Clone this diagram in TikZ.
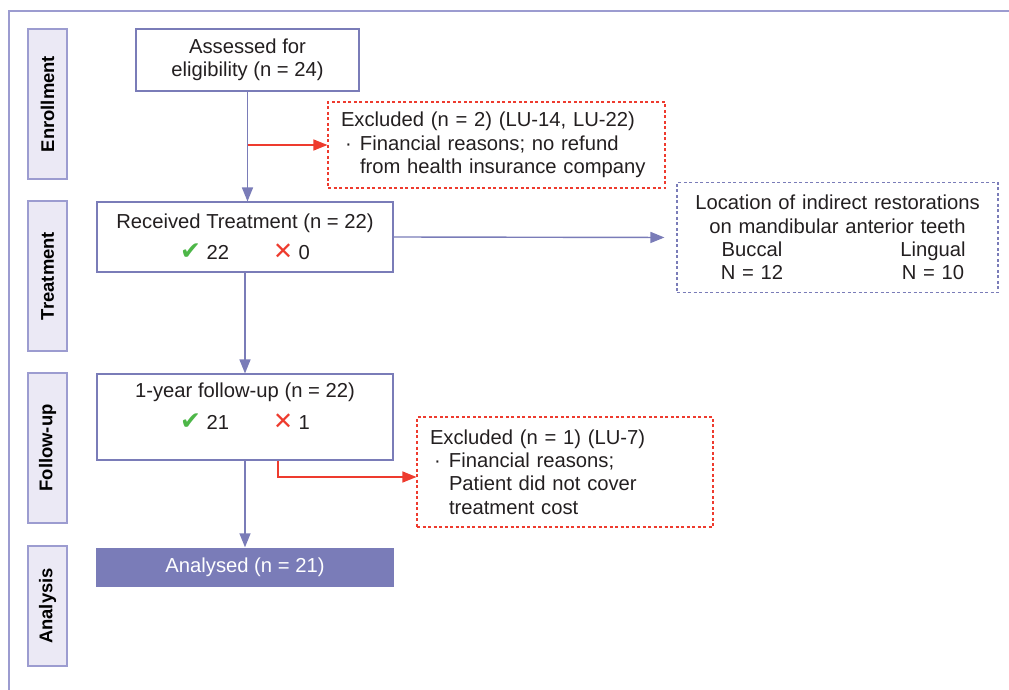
\documentclass[tikz,border=0pt]{standalone}
\usepackage{fontspec}
\setmainfont{Liberation Sans}
\newfontfamily\symfont{DejaVu Sans}
\usetikzlibrary{arrows.meta}

\definecolor{ink}{HTML}{7A7CB8}
\definecolor{frame}{HTML}{9C9CD0}
\definecolor{pale}{HTML}{EBE9F5}
\definecolor{alert}{HTML}{EE3B2E}
\definecolor{okgreen}{HTML}{4DB748}
\definecolor{txt}{HTML}{231F20}

\newcommand{\yes}{{\symfont\fontsize{25}{25}\selectfont\color{okgreen}✔}}
\newcommand{\nope}{{\symfont\fontsize{24}{24}\selectfont\color{alert}✕}}

\begin{document}
\begin{tikzpicture}[x=1bp,y=-1bp,every node/.style={font=\fontsize{20.3}{23.5}\selectfont,text=txt,inner sep=0},>={Triangle[length=14bp,width=11bp]}]
\path[use as bounding box] (0,0) rectangle (1009,690);
\tikzset{
  stagebox/.style={draw=frame,fill=pale,line width=1.2bp,rotate=90,minimum width=150bp,minimum height=39bp,font=\fontsize{18.5}{20}\selectfont\bfseries,text=black},
  flowbox/.style={draw=ink,line width=1.1bp,fill=white,align=center},
  exclbox/.style={draw=alert,line width=1.1bp,dash pattern=on 3bp off 2.5bp,align=left},
  notebox/.style={draw=ink,line width=1.1bp,dash pattern=on 3bp off 2.5bp,align=center},
  flowline/.style={draw=ink,line width=1.4bp,->},
  exclline/.style={draw=alert,line width=1.4bp,->}
}
\draw[frame,line width=1.5bp] (1009,11) -- (9,11) -- (9,690);
% stage labels
\node[stagebox] (enrol) at (47.5,104) {Enrollment};
\node[stagebox] (treat) at (47.5,276) {Treatment};
\node[stagebox] (follow) at (47.5,448) {Follow-up};
\node[stagebox,minimum width=120bp] (analysis) at (47.5,606) {Analysis};
% flow boxes
\node[flowbox,minimum width=223bp,minimum height=62bp] (assess) at (247.5,60) {Assessed for\\eligibility (n = 24)};
\node[exclbox,minimum height=86bp,text width=311bp,inner xsep=13bp] (excl1) at (496.5,145) {Excluded (n = 2) (LU-14, LU-22)\\
\makebox[19bp][l]{\hspace{4bp}·}Financial reasons; no refund\\
\hspace*{19bp}from health insurance company};
\node[flowbox,minimum width=296bp,minimum height=70bp] (recv) at (245,237) {Received Treatment (n = 22)\\[8bp]
\yes\ 22\hspace{44bp}\nope\ 0};
\node[notebox,minimum height=110bp,text width=301bp,inner xsep=10bp] (loc) at (837.5,237.5) {Location of indirect restorations\\on mandibular anterior teeth\\
\hspace*{10bp}\makebox[110bp]{Buccal}\hspace{71bp}\makebox[110bp]{Lingual}\\
\hspace*{10bp}\makebox[110bp]{N = 12}\hspace{71bp}\makebox[110bp]{N = 10}};
\node[flowbox,minimum width=296bp,minimum height=86bp,text depth=22bp] (fup) at (245,417) {1-year follow-up (n = 22)\\[8bp]
\yes\ 21\hspace{44bp}\nope\ 1};
\node[exclbox,minimum height=110bp,text width=270bp,inner xsep=13bp] (excl2) at (565,472) {Excluded (n = 1) (LU-7)\\
\makebox[19bp][l]{\hspace{4bp}·}Financial reasons;\\
\hspace*{19bp}Patient did not cover\\
\hspace*{19bp}treatment cost};
\node[fill=ink,minimum width=298bp,minimum height=39bp,text=white] (anal) at (245,567) {Analysed (n = 21)};
% connectors
\draw[flowline] (assess.south) -- (assess.south |- recv.north);
\draw[exclline] (assess.south |- excl1.west) -- (excl1.west);
\draw[flowline,shorten >=12bp] (recv.east) -- (loc.west);
\draw[flowline] (recv.south) -- (fup.north);
\draw[exclline] ([xshift=33bp]fup.south) |- ([yshift=-5bp]excl2.west);
\draw[flowline] (fup.south) -- (anal.north);
\end{tikzpicture}
\end{document}
